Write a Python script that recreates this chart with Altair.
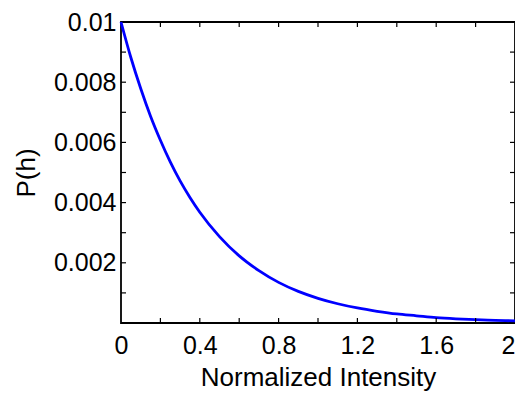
import altair as alt
import pandas as pd

# Curve values
intensity = [0.0, 0.05, 0.1, 0.15, 0.2, 0.25, 0.3, 0.35, 0.4, 0.5, 0.6, 0.7, 0.8, 0.9,
             1.0, 1.1, 1.2, 1.3, 1.4, 1.5, 1.6, 1.7, 1.8, 1.9, 2.0]
prob = [0.01, 0.00882, 0.00779, 0.00687, 0.00607, 0.00535, 0.00472, 0.00417, 0.00368,
        0.00287, 0.00223, 0.00174, 0.00135, 0.00105, 0.00082, 0.00064, 0.00050, 0.00039,
        0.00030, 0.00024, 0.00018, 0.00014, 0.00011, 0.00009, 0.00007]

x_label_values = [0, 0.4, 0.8, 1.2, 1.6, 2.0]
y_label_values = [0.002, 0.004, 0.006, 0.008, 0.01]
x_minor = [0.2, 0.4, 0.6, 0.8, 1.0, 1.2, 1.4, 1.6, 1.8]
y_minor = [0.001, 0.002, 0.003, 0.004, 0.005, 0.006, 0.007, 0.008, 0.009]

W, H = 394, 301
FONT = "Liberation Sans"

df = pd.DataFrame({"x": intensity, "y": prob})
xt = pd.DataFrame({"x": x_minor})
yt = pd.DataFrame({"y": y_minor})

xscale = alt.Scale(domain=[0, 2], nice=False, zero=False)
yscale = alt.Scale(domain=[0, 0.01], nice=False, zero=False)

xaxis = alt.Axis(title="Normalized Intensity", values=x_label_values, format=".1~f",
                 ticks=False, domain=False, grid=False, labelFlush=False,
                 labelAlign={"expr": "datum.value >= 2 ? 'right' : 'center'"},
                 labelPadding=10, titlePadding=6)
yaxis = alt.Axis(title="P(h)", values=y_label_values, format=".3~f",
                 ticks=False, domain=False, grid=False, labelFlush=False,
                 labelPadding=5, titlePadding=14)

line = alt.Chart(df).mark_line(color="#0000ff", strokeWidth=2.8, interpolate="monotone").encode(
    x=alt.X("x:Q", scale=xscale, axis=xaxis),
    y=alt.Y("y:Q", scale=yscale, axis=yaxis),
)

tick_len = 5
bottom_ticks = alt.Chart(xt).mark_rule(color="black", strokeWidth=1.2).encode(
    x=alt.X("x:Q", scale=xscale, axis=xaxis), y=alt.value(H), y2=alt.value(H - tick_len))
top_ticks = alt.Chart(xt).mark_rule(color="black", strokeWidth=1.2).encode(
    x=alt.X("x:Q", scale=xscale, axis=xaxis), y=alt.value(0), y2=alt.value(tick_len))
left_ticks = alt.Chart(yt).mark_rule(color="black", strokeWidth=1.2).encode(
    y=alt.Y("y:Q", scale=yscale, axis=yaxis), x=alt.value(0), x2=alt.value(tick_len))
right_ticks = alt.Chart(yt).mark_rule(color="black", strokeWidth=1.2).encode(
    y=alt.Y("y:Q", scale=yscale, axis=yaxis), x=alt.value(W), x2=alt.value(W - tick_len))

chart = alt.layer(line, bottom_ticks, top_ticks, left_ticks, right_ticks).properties(
    width=W, height=H,
    autosize=alt.AutoSizeParams(type="none"),
    padding={"left": 113, "top": 14, "right": 0, "bottom": 71},
).configure_view(
    stroke="black", strokeWidth=1.8
).configure_axis(
    labelFont=FONT, titleFont=FONT, labelFontSize=25, titleFontSize=26,
    labelColor="black", titleColor="black", titleFontWeight="normal",
)

chart.save("out.html", embed_options={"renderer": "svg", "actions": False})
